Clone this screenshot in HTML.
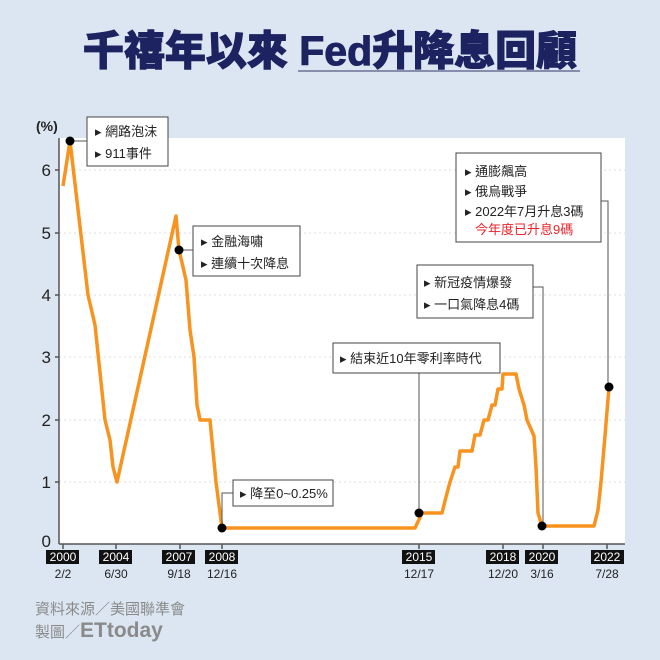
<!DOCTYPE html>
<html><head><meta charset="utf-8"><style>
body{margin:0;width:660px;height:660px;background:#dce6f2;overflow:hidden;font-family:"Liberation Sans","Noto Sans CJK TC",sans-serif;}
</style></head><body>
<svg width="660" height="660" xmlns="http://www.w3.org/2000/svg" style="position:absolute;left:0;top:0">
<rect width="660" height="660" fill="#dce6f2"/>
<text x="330" y="65" text-anchor="middle" font-size="41" font-weight="900" fill="#1c2360" stroke="#1c2360" stroke-width="1" font-family="Liberation Sans,Noto Sans CJK TC,sans-serif">千禧年以來 Fed升降息回顧</text>
<line x1="298" y1="71" x2="580" y2="71" stroke="#6b7094" stroke-width="1.5"/>
<rect x="59" y="138" width="566" height="406" fill="#fff"/>
<g stroke="#ddd" stroke-dasharray="2,3" stroke-width="1">
<line x1="59" y1="170" x2="625" y2="170"/><line x1="59" y1="233" x2="625" y2="233"/>
<line x1="59" y1="295" x2="625" y2="295"/><line x1="59" y1="357" x2="625" y2="357"/>
<line x1="59" y1="420" x2="625" y2="420"/><line x1="59" y1="482" x2="625" y2="482"/>
</g>
<g stroke="#555" stroke-width="1.5">
<line x1="59" y1="138" x2="59" y2="544"/><line x1="59" y1="544" x2="625" y2="544"/>
<line x1="55" y1="170" x2="59" y2="170"/><line x1="55" y1="233" x2="59" y2="233"/><line x1="55" y1="295" x2="59" y2="295"/><line x1="55" y1="357" x2="59" y2="357"/><line x1="55" y1="420" x2="59" y2="420"/><line x1="55" y1="482" x2="59" y2="482"/>
<line x1="63" y1="544" x2="63" y2="549"/><line x1="116" y1="544" x2="116" y2="549"/><line x1="180" y1="544" x2="180" y2="549"/><line x1="222" y1="544" x2="222" y2="549"/><line x1="419" y1="544" x2="419" y2="549"/><line x1="503" y1="544" x2="503" y2="549"/><line x1="543" y1="544" x2="543" y2="549"/><line x1="607" y1="544" x2="607" y2="549"/>
</g>
<g font-size="17" fill="#222" text-anchor="end">
<text x="51" y="176">6</text><text x="51" y="239">5</text><text x="51" y="301">4</text><text x="51" y="363">3</text><text x="51" y="426">2</text><text x="51" y="488">1</text><text x="51" y="547">0</text>
</g>
<text x="36" y="131" font-size="14" font-weight="bold" fill="#222">(%)</text>
<polyline fill="none" stroke="#f7931e" stroke-width="3.5" stroke-linejoin="round" points="63,186 70,141 88,295 95,325 105,420 110,440 113,467 117,482 176,216 179,250 186,280 190,330 194,357 197,405 200,420 210,420 216,482 222,528 415,528 422,513 442,513 446,497 450,482 455,467 458,467 460,451 472,451 475,435 480,435 484,420 488,420 492,405 495,405 498,389 502,389 503,374 516,374 519,389 524,405 527,420 534,436 536,467 538,513 542,526 594,526 598,510 601,482 605,436 609,387"/>
<g stroke="#555" stroke-width="1" fill="none">
<line x1="70" y1="141" x2="87" y2="141"/>
<line x1="179" y1="250" x2="193" y2="250"/>
<polyline points="222,528 222,493 233,493"/>
<line x1="419" y1="513" x2="419" y2="373"/>
<polyline points="533,287 543,287 543,526"/>
<polyline points="601,201 608,201 608,387"/>
</g>
<g fill="#fff" stroke="#444" stroke-width="1">
<rect x="87" y="117" width="81" height="49"/>
<rect x="193" y="226" width="107" height="50"/>
<rect x="233" y="480" width="100" height="26"/>
<rect x="333" y="343" width="167" height="30"/>
<rect x="417" y="265" width="116" height="53"/>
<rect x="456" y="153" width="145" height="89"/>
</g>
<g fill="#000"><circle cx="70" cy="141" r="4.5"/><circle cx="179" cy="250" r="4.5"/><circle cx="222" cy="528" r="4.5"/><circle cx="419" cy="513" r="4.5"/><circle cx="542" cy="526" r="4.5"/><circle cx="609" cy="387" r="4.5"/></g>
<g font-size="13" fill="#222">
<text x="95" y="136">▸ 網路泡沫</text><text x="95" y="158">▸ 911事件</text>
<text x="201" y="246">▸ 金融海嘯</text><text x="201" y="268">▸ 連續十次降息</text>
<text x="240" y="498">▸ 降至0~0.25%</text>
<text x="340" y="363">▸ 結束近10年零利率時代</text>
<text x="424" y="287">▸ 新冠疫情爆發</text><text x="424" y="309">▸ 一口氣降息4碼</text>
<text x="465" y="176">▸ 通膨飆高</text><text x="465" y="196">▸ 俄烏戰爭</text><text x="465" y="216">▸ 2022年7月升息3碼</text>
<text x="475" y="234" fill="#e8232a">今年度已升息9碼</text>
</g>
<g font-size="12" text-anchor="middle">
<rect x="46" y="550" width="33" height="14" fill="#111"/><text x="63" y="561" fill="#fff">2000</text><text x="63" y="578" fill="#222">2/2</text>
<rect x="99" y="550" width="33" height="14" fill="#111"/><text x="116" y="561" fill="#fff">2004</text><text x="116" y="578" fill="#222">6/30</text>
<rect x="162" y="550" width="33" height="14" fill="#111"/><text x="179" y="561" fill="#fff">2007</text><text x="179" y="578" fill="#222">9/18</text>
<rect x="205" y="550" width="33" height="14" fill="#111"/><text x="222" y="561" fill="#fff">2008</text><text x="222" y="578" fill="#222">12/16</text>
<rect x="402" y="550" width="33" height="14" fill="#111"/><text x="419" y="561" fill="#fff">2015</text><text x="419" y="578" fill="#222">12/17</text>
<rect x="486" y="550" width="33" height="14" fill="#111"/><text x="503" y="561" fill="#fff">2018</text><text x="503" y="578" fill="#222">12/20</text>
<rect x="525" y="550" width="33" height="14" fill="#111"/><text x="542" y="561" fill="#fff">2020</text><text x="542" y="578" fill="#222">3/16</text>
<rect x="591" y="550" width="33" height="14" fill="#111"/><text x="607" y="561" fill="#fff">2022</text><text x="607" y="578" fill="#222">7/28</text>
</g>
<text x="35" y="614" font-size="15" fill="#8a8a8a">資料來源／美國聯準會</text>
<text x="35" y="637" font-size="15" fill="#8a8a8a">製圖／<tspan font-weight="bold" font-size="21">ETtoday</tspan></text>
</svg>
</body></html>
